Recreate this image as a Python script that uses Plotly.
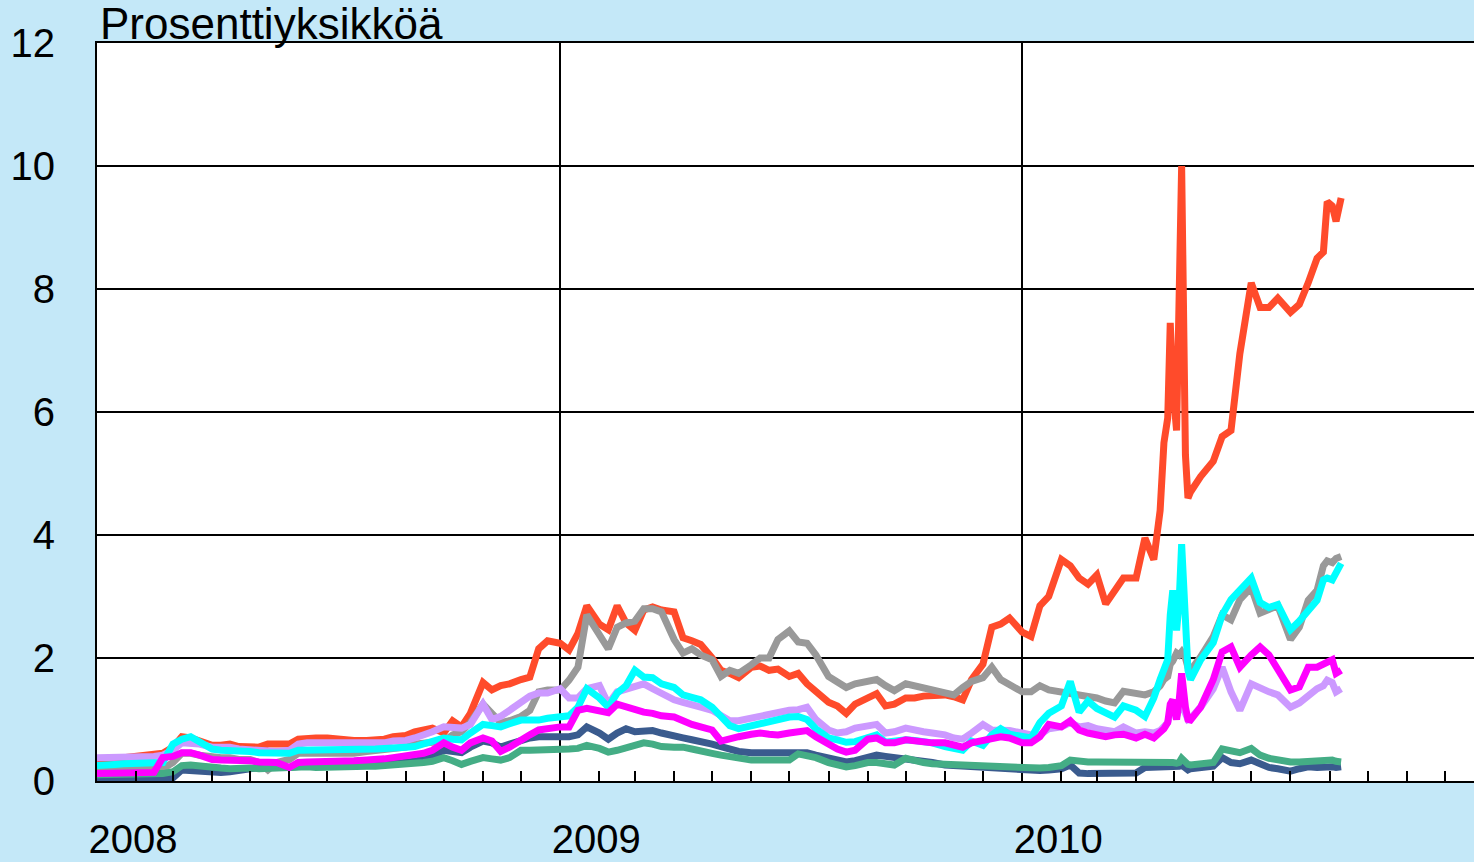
import plotly.graph_objects as go

dates_2008 = [f"2008-{m:02d}-{d:02d}" for m in range(1, 13) for d in (1, 8, 15, 22)]
dates_2009 = [f"2009-{m:02d}-{d:02d}" for m in range(1, 13) for d in (1, 8, 15, 22)]
dates_2010 = [
    "2010-01-01", "2010-01-08", "2010-01-15", "2010-01-22",
    "2010-02-01", "2010-02-08", "2010-02-15", "2010-02-22",
    "2010-03-01", "2010-03-08", "2010-03-15", "2010-03-22",
    "2010-04-01", "2010-04-08", "2010-04-15", "2010-04-20", "2010-04-23", "2010-04-26", "2010-04-28", "2010-04-30",
    "2010-05-03", "2010-05-05", "2010-05-07", "2010-05-10", "2010-05-12", "2010-05-14", "2010-05-22",
    "2010-06-01", "2010-06-08", "2010-06-15", "2010-06-22",
    "2010-07-01", "2010-07-08", "2010-07-15", "2010-07-22",
    "2010-08-01", "2010-08-08", "2010-08-15", "2010-08-22", "2010-08-27", "2010-08-30",
    "2010-09-03", "2010-09-06", "2010-09-10",
]
dates = dates_2008 + dates_2009 + dates_2010

red = [
    0.35, 0.35, 0.37, 0.38, 0.40, 0.40, 0.42, 0.45,
    0.55, 0.72, 0.70, 0.66, 0.58, 0.58, 0.60, 0.56,
    0.54, 0.55, 0.60, 0.60, 0.60, 0.68, 0.70, 0.70,
    0.70, 0.68, 0.66, 0.66, 0.66, 0.66, 0.68, 0.72,
    0.74, 0.80, 0.82, 0.86, 0.78, 0.98, 0.88, 1.10,
    1.60, 1.48, 1.55, 1.58, 1.65, 1.69, 2.15, 2.28,
    2.24, 2.13, 2.40, 2.85, 2.55, 2.46, 2.85, 2.57,
    2.45, 2.78, 2.83, 2.78, 2.75, 2.33, 2.28, 2.22,
    2.00, 1.80, 1.75, 1.68, 1.85, 1.87, 1.80, 1.82,
    1.70, 1.75, 1.58, 1.45, 1.28, 1.22, 1.10, 1.25,
    1.35, 1.42, 1.22, 1.25, 1.35, 1.35, 1.38, 1.40,
    1.40, 1.37, 1.32, 1.65, 1.90, 2.50, 2.55, 2.65,
    2.42, 2.35, 2.85, 3.00, 3.60, 3.50, 3.30, 3.20,
    3.35, 2.88, 3.10, 3.30, 3.30, 3.95, 3.60, 4.40,
    5.50, 5.90, 7.45, 6.40, 5.70, 7.30, 10.0, 5.30,
    4.60, 4.70, 4.95, 5.20, 5.60, 5.70, 6.95, 8.10,
    7.70, 7.70, 7.85, 7.62, 7.75, 8.10, 8.50, 8.60,
    9.42, 9.35, 9.10, 9.48,
]
grey = [
    0.20, 0.20, 0.18, 0.20, 0.22, 0.20, 0.20, 0.20,
    0.30, 0.45, 0.45, 0.42, 0.38, 0.38, 0.38, 0.35,
    0.35, 0.30, 0.18, 0.30, 0.35, 0.45, 0.45, 0.45,
    0.45, 0.45, 0.45, 0.45, 0.48, 0.50, 0.50, 0.52,
    0.55, 0.60, 0.62, 0.65, 0.65, 0.75, 0.80, 0.95,
    1.25, 1.10, 0.95, 0.98, 1.05, 1.15, 1.45, 1.48,
    1.48, 1.64, 1.85, 2.70, 2.40, 2.15, 2.50, 2.57,
    2.60, 2.80, 2.80, 2.75, 2.30, 2.08, 2.15, 2.05,
    1.97, 1.70, 1.80, 1.75, 1.89, 2.00, 2.00, 2.30,
    2.44, 2.26, 2.24, 2.05, 1.70, 1.60, 1.52, 1.58,
    1.62, 1.65, 1.55, 1.47, 1.58, 1.55, 1.52, 1.50,
    1.45, 1.40, 1.52, 1.62, 1.68, 1.85, 1.65, 1.58,
    1.45, 1.45, 1.55, 1.48, 1.45, 1.43, 1.40, 1.37,
    1.35, 1.30, 1.27, 1.46, 1.42, 1.40, 1.45, 1.55,
    1.65, 1.70, 1.90, 1.95, 2.08, 2.05, 2.10, 2.00,
    1.85, 1.80, 2.02, 2.35, 2.70, 2.62, 2.95, 3.15,
    2.73, 2.78, 2.85, 2.30, 2.50, 2.94, 3.10, 3.50,
    3.58, 3.55, 3.62, 3.65,
]
dark_blue = [
    0.05, 0.05, 0.04, 0.05, 0.05, 0.04, 0.04, 0.04,
    0.05, 0.18, 0.17, 0.15, 0.15, 0.14, 0.15, 0.16,
    0.20, 0.22, 0.23, 0.22, 0.22, 0.24, 0.25, 0.25,
    0.25, 0.25, 0.25, 0.26, 0.26, 0.27, 0.27, 0.28,
    0.29, 0.32, 0.36, 0.40, 0.50, 0.48, 0.46, 0.55,
    0.65, 0.62, 0.55, 0.60, 0.67, 0.70, 0.72, 0.72,
    0.72, 0.72, 0.75, 0.88, 0.78, 0.68, 0.78, 0.85,
    0.80, 0.80, 0.82, 0.78, 0.72, 0.70, 0.67, 0.65,
    0.60, 0.56, 0.52, 0.48, 0.46, 0.46, 0.46, 0.46,
    0.46, 0.46, 0.46, 0.42, 0.37, 0.33, 0.31, 0.33,
    0.40, 0.42, 0.40, 0.38, 0.37, 0.36, 0.32, 0.30,
    0.26, 0.25, 0.24, 0.23, 0.22, 0.22, 0.21, 0.20,
    0.18, 0.17, 0.17, 0.18, 0.20, 0.26, 0.13, 0.12,
    0.12, 0.12, 0.13, 0.12, 0.13, 0.22, 0.22, 0.23,
    0.23, 0.22, 0.23, 0.24, 0.22, 0.24, 0.26, 0.20,
    0.18, 0.20, 0.22, 0.24, 0.38, 0.30, 0.28, 0.34,
    0.28, 0.22, 0.20, 0.16, 0.20, 0.23, 0.22, 0.23,
    0.22, 0.23, 0.22, 0.23,
]
green = [
    0.10, 0.10, 0.10, 0.10, 0.10, 0.10, 0.10, 0.12,
    0.15, 0.25, 0.26, 0.24, 0.21, 0.21, 0.20, 0.21,
    0.21, 0.20, 0.21, 0.20, 0.21, 0.22, 0.23, 0.22,
    0.23, 0.23, 0.22, 0.23, 0.24, 0.24, 0.25, 0.26,
    0.26, 0.28, 0.30, 0.32, 0.38, 0.33, 0.27, 0.32,
    0.38, 0.36, 0.34, 0.38, 0.50, 0.50, 0.50, 0.50,
    0.50, 0.52, 0.53, 0.58, 0.53, 0.47, 0.50, 0.55,
    0.58, 0.62, 0.60, 0.56, 0.55, 0.55, 0.52, 0.48,
    0.45, 0.42, 0.39, 0.36, 0.34, 0.34, 0.34, 0.34,
    0.34, 0.44, 0.42, 0.38, 0.30, 0.25, 0.23, 0.25,
    0.30, 0.30, 0.28, 0.26, 0.37, 0.32, 0.30, 0.28,
    0.27, 0.26, 0.26, 0.26, 0.26, 0.25, 0.23, 0.22,
    0.21, 0.21, 0.21, 0.22, 0.25, 0.34, 0.32, 0.31,
    0.31, 0.31, 0.31, 0.31, 0.32, 0.31, 0.32, 0.31,
    0.32, 0.31, 0.32, 0.30, 0.29, 0.30, 0.37, 0.30,
    0.27, 0.26, 0.28, 0.30, 0.52, 0.50, 0.46, 0.53,
    0.42, 0.37, 0.34, 0.31, 0.31, 0.32, 0.33, 0.34,
    0.33, 0.34, 0.32, 0.31,
]
lavender = [
    0.38, 0.38, 0.38, 0.40, 0.40, 0.40, 0.40, 0.42,
    0.50, 0.62, 0.62, 0.60, 0.55, 0.55, 0.55, 0.52,
    0.50, 0.50, 0.48, 0.48, 0.50, 0.60, 0.62, 0.62,
    0.62, 0.60, 0.60, 0.60, 0.60, 0.62, 0.62, 0.65,
    0.66, 0.70, 0.74, 0.80, 0.88, 0.88, 0.86, 0.92,
    1.25, 1.00, 1.05, 1.15, 1.28, 1.38, 1.43, 1.43,
    1.50, 1.35, 1.35, 1.50, 1.55, 1.25, 1.45, 1.50,
    1.53, 1.58, 1.50, 1.42, 1.32, 1.28, 1.25, 1.20,
    1.15, 1.05, 0.98, 0.98, 1.02, 1.06, 1.10, 1.12,
    1.15, 1.16, 1.20, 1.00, 0.83, 0.78, 0.80, 0.86,
    0.90, 0.92, 0.78, 0.80, 0.86, 0.82, 0.80, 0.78,
    0.75, 0.70, 0.68, 0.78, 0.92, 0.83, 0.83, 0.82,
    0.78, 0.75, 0.75, 0.85, 0.88, 0.95, 0.88, 0.90,
    0.85, 0.82, 0.80, 0.88, 0.78, 0.80, 0.78, 0.82,
    0.88, 0.95, 1.10, 1.20, 1.05, 1.15, 1.30, 1.10,
    1.00, 1.02, 1.20, 1.50, 1.85, 1.45, 1.15, 1.58,
    1.50, 1.45, 1.40, 1.20, 1.27, 1.40, 1.50, 1.55,
    1.64, 1.60, 1.45, 1.50,
]
cyan = [
    0.25, 0.25, 0.27, 0.28, 0.28, 0.28, 0.28, 0.30,
    0.60, 0.68, 0.72, 0.65, 0.52, 0.50, 0.50, 0.48,
    0.48, 0.46, 0.46, 0.47, 0.45, 0.50, 0.50, 0.50,
    0.50, 0.50, 0.50, 0.50, 0.52, 0.52, 0.53, 0.53,
    0.55, 0.56, 0.60, 0.65, 0.70, 0.68, 0.67, 0.78,
    0.92, 0.90, 0.88, 0.93, 0.99, 0.99, 0.99, 1.02,
    1.04, 1.06, 1.20, 1.50, 1.35, 1.20, 1.43, 1.55,
    1.80, 1.69, 1.68, 1.58, 1.52, 1.40, 1.36, 1.32,
    1.20, 1.05, 0.90, 0.85, 0.90, 0.95, 0.98, 1.00,
    1.04, 1.05, 1.00, 0.85, 0.70, 0.67, 0.63, 0.64,
    0.72, 0.75, 0.63, 0.66, 0.67, 0.66, 0.64, 0.62,
    0.56, 0.52, 0.50, 0.65, 0.58, 0.75, 0.85, 0.76,
    0.72, 0.70, 0.95, 1.10, 1.22, 1.62, 1.12, 1.30,
    1.18, 1.10, 1.04, 1.22, 1.15, 1.05, 1.35, 1.65,
    1.85, 1.97, 2.70, 3.10, 2.45, 2.90, 3.85, 2.20,
    1.80, 1.65, 1.97, 2.25, 2.70, 2.95, 3.10, 3.30,
    2.90, 2.82, 2.87, 2.46, 2.60, 2.75, 2.94, 3.27,
    3.30, 3.27, 3.38, 3.54,
]
magenta = [
    0.12, 0.12, 0.12, 0.13, 0.13, 0.13, 0.14, 0.38,
    0.40, 0.46, 0.46, 0.42, 0.35, 0.34, 0.34, 0.33,
    0.33, 0.31, 0.31, 0.30, 0.22, 0.30, 0.31, 0.31,
    0.31, 0.32, 0.33, 0.33, 0.34, 0.34, 0.36, 0.38,
    0.40, 0.42, 0.45, 0.50, 0.62, 0.55, 0.50, 0.62,
    0.70, 0.65, 0.48, 0.55, 0.68, 0.75, 0.83, 0.86,
    0.88, 0.88, 1.15, 1.18, 1.15, 1.11, 1.25, 1.20,
    1.15, 1.12, 1.10, 1.06, 1.04, 0.97, 0.92, 0.88,
    0.83, 0.65, 0.70, 0.72, 0.76, 0.78, 0.76, 0.75,
    0.78, 0.80, 0.82, 0.72, 0.60, 0.52, 0.47, 0.50,
    0.68, 0.70, 0.62, 0.62, 0.67, 0.65, 0.62, 0.62,
    0.62, 0.58, 0.55, 0.62, 0.66, 0.70, 0.72, 0.70,
    0.62, 0.62, 0.72, 0.92, 0.88, 0.98, 0.83, 0.78,
    0.76, 0.72, 0.75, 0.76, 0.70, 0.76, 0.70, 0.78,
    0.85, 0.95, 1.25, 1.32, 1.00, 1.30, 1.75, 1.20,
    1.00, 0.99, 1.20, 1.65, 2.10, 2.18, 1.85, 2.05,
    2.18, 2.05, 1.80, 1.48, 1.53, 1.85, 1.85, 1.90,
    1.95, 1.97, 1.75, 1.80,
]

series = [
    ("red", red, "#FF4B2B"),
    ("grey", grey, "#999999"),
    ("dark_blue", dark_blue, "#3A5B8E"),
    ("green", green, "#44AD85"),
    ("lavender", lavender, "#CC99FF"),
    ("cyan", cyan, "#00FFFF"),
    ("magenta", magenta, "#FF00FF"),
]
for name, vals, _ in series:
    assert len(vals) == len(dates), (name, len(vals), len(dates))

y_ticks = [0, 2, 4, 6, 8, 10, 12]
x_range = ["2008-01-01", "2010-12-24"]
FONT = "Liberation Sans, Arial, sans-serif"

fig = go.Figure()
for name, vals, color in series:
    fig.add_trace(go.Scatter(
        x=dates, y=vals, mode="lines", name=name,
        line=dict(color=color, width=7), showlegend=False,
    ))

fig.update_layout(
    width=1474, height=862,
    margin=dict(l=97, r=0, t=43, b=81),
    paper_bgcolor="#C4E8F8",
    plot_bgcolor="white",
    font=dict(family=FONT, size=40, color="black"),
    showlegend=False,
)
fig.update_xaxes(
    type="date", range=x_range, automargin=False,
    tick0="2008-01-01", dtick="M12",
    showgrid=True, gridcolor="black", gridwidth=2,
    ticks="", tickformat="%Y",
    ticklabelshift=36, ticklabelstandoff=22,
    tickfont=dict(size=40, family=FONT, color="black"),
    showline=True, linecolor="black", linewidth=2, mirror=True,
    minor=dict(dtick="M1", tick0="2008-01-01", ticks="inside", ticklen=10,
               tickwidth=2, tickcolor="black", showgrid=False),
    zeroline=False,
)
fig.update_yaxes(
    range=[0, 12], tickvals=y_ticks, automargin=False,
    showgrid=True, gridcolor="black", gridwidth=2,
    ticks="", ticklabelstandoff=32,
    tickfont=dict(size=40, family=FONT, color="black"),
    showline=True, linecolor="black", linewidth=2,
    zeroline=False,
)
fig.add_annotation(
    text="Prosenttiyksikköä", xref="paper", yref="paper",
    x=0.0, y=1.0, xanchor="left", yanchor="bottom", yshift=-7, xshift=1,
    showarrow=False, font=dict(size=44, family=FONT, color="black"),
)

fig.write_html(
    "out.html",
    config={"displayModeBar": False},
    post_script="document.body.style.margin='0';document.body.style.padding='0';",
)
